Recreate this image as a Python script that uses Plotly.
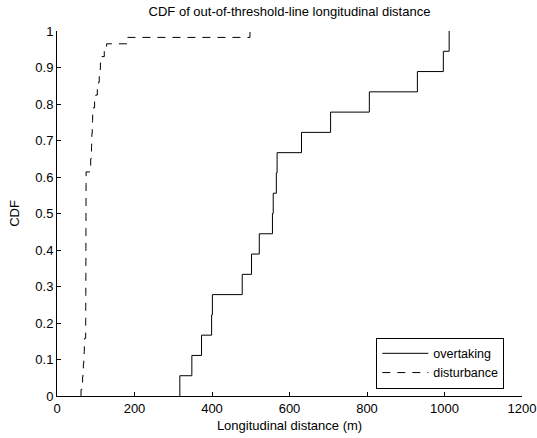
import numpy as np
import plotly.graph_objects as go

# ---- data (longitudinal distance in m) ----
overtaking = [317, 348, 373, 399, 401, 478, 502, 522, 556, 558, 566, 568,
              631, 706, 806, 930, 997, 1012]
disturbance = [62, 64, 66, 67, 68, 69, 70, 70.5, 71,
               74.0, 74.1, 74.1, 74.2, 74.2, 74.3, 74.3, 74.4, 74.4, 74.5,
               74.5, 74.5, 74.6, 74.6, 74.6, 74.7, 74.7, 74.7, 74.8, 74.8,
               74.8, 74.9, 74.9, 75.0, 75.0, 75.1,
               85, 87, 88, 89, 89.5, 90, 91, 91.5, 92, 92.5,
               97, 100, 104, 107, 109, 111, 112, 113, 122, 128, 182, 498]
series_names = ["overtaking", "disturbance"]
x_ticks = [0, 200, 400, 600, 800, 1000, 1200]
y_ticks = [0, 0.1, 0.2, 0.3, 0.4, 0.5, 0.6, 0.7, 0.8, 0.9, 1]
y_ticklabels = ["0", "0.1", "0.2", "0.3", "0.4", "0.5", "0.6", "0.7", "0.8", "0.9", "1"]


def ecdf(values):
    xs = np.sort(np.asarray(values, dtype=float))
    n = len(xs)
    x = np.concatenate([[xs[0]], xs])
    y = np.concatenate([[0.0], np.arange(1, n + 1) / n])
    return x, y


FONT = "Liberation Sans, Arial, Helvetica, sans-serif"
FS = 13

fig = go.Figure()
for name, vals, dash in [(series_names[0], overtaking, "solid"),
                         (series_names[1], disturbance, "8px,7px")]:
    x, y = ecdf(vals)
    fig.add_trace(go.Scatter(x=x, y=y, mode="lines", name=name,
                             line=dict(color="black", width=1, dash=dash, shape="hv")))

axis_common = dict(showline=True, linecolor="black", linewidth=1, mirror=False,
                   ticks="inside", ticklen=4, tickcolor="black", tickwidth=1,
                   showgrid=False, zeroline=False, automargin=False,
                   tickfont=dict(family=FONT, size=FS, color="black"))

fig.update_layout(
    width=537, height=438,
    paper_bgcolor="white", plot_bgcolor="white",
    margin=dict(l=57, r=15, t=31, b=42, autoexpand=False),
    font=dict(family=FONT, size=FS, color="black"),
    title=dict(text="CDF of out-of-threshold-line longitudinal distance",
               x=0.5, xref="paper", y=1 - 11 / 438, yref="container",
               yanchor="middle", font=dict(family=FONT, size=FS, color="black")),
    xaxis=dict(range=[0, 1200], tickvals=x_ticks, ticktext=[str(v) for v in x_ticks],
               title=dict(text="Longitudinal distance (m)", standoff=6,
                          font=dict(family=FONT, size=FS)),
               **axis_common),
    yaxis=dict(range=[0, 1], tickvals=y_ticks, ticktext=y_ticklabels,
               title=dict(text="CDF", standoff=12, font=dict(family=FONT, size=FS)),
               **axis_common),
    legend=dict(x=0.962, xanchor="right", y=0.02, yanchor="bottom",
                bordercolor="black", borderwidth=1, bgcolor="white",
                itemwidth=46, tracegroupgap=0,
                font=dict(family=FONT, size=12.5, color="black")),
    showlegend=True,
)

fig.write_html("out.html",
               config={"displayModeBar": False},
               post_script="document.body.style.margin='0px';"
                           "document.body.style.overflow='hidden';")
